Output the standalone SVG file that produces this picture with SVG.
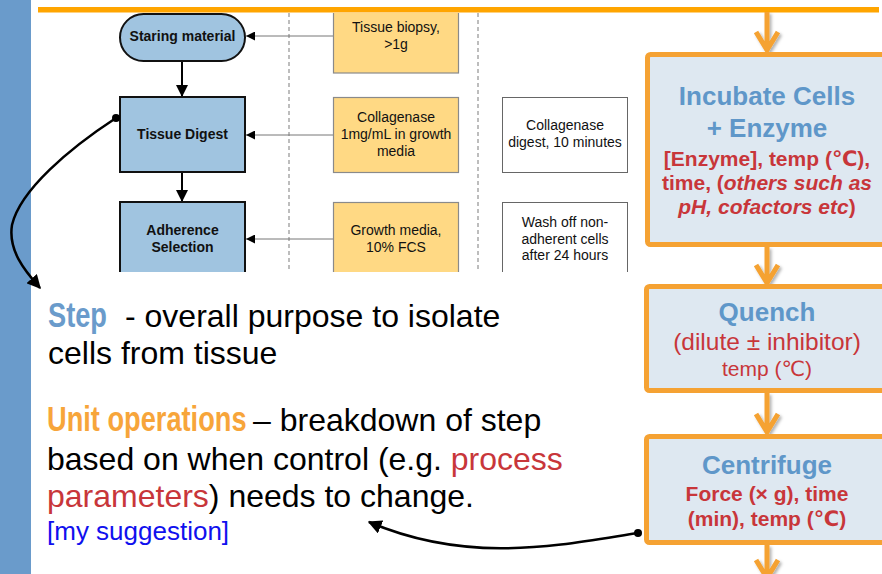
<svg xmlns="http://www.w3.org/2000/svg" width="882" height="574" viewBox="0 0 882 574">
<style>
  .node { fill: #A0C4E0; stroke: #111; stroke-width: 2; }
  .param { fill: #FFD984; stroke: #8a8a8a; stroke-width: 1.2; }
  .note { fill: #fff; stroke: #666; stroke-width: 1; }
  .ntxt { font-family: "Liberation Sans", Arial, sans-serif; font-size: 14px; font-weight: bold; fill: #111; text-anchor: middle; }
  .ptxt { font-family: "Liberation Sans", Arial, sans-serif; font-size: 14px; fill: #111; text-anchor: middle; }
  .dash { stroke: #9a9a9a; stroke-width: 1.3; stroke-dasharray: 4 3; fill: none; }
  .gline { stroke: #777; stroke-width: 1; fill: none; }
  .bline { stroke: #000; stroke-width: 2; fill: none; }
  .curve { stroke: #000; stroke-width: 2.5; fill: none; }
  .obox { fill: #DEE8F1; stroke: #F5A233; stroke-width: 5; }
  .oarrow { stroke: #F5A233; stroke-width: 5; fill: none; stroke-linecap: butt; stroke-linejoin: miter; }
  .btitle { font-family: "Liberation Sans", Arial, sans-serif; font-size: 26px; font-weight: bold; fill: #5F97C9; text-anchor: middle; }
  .rtxt { font-family: "Liberation Sans", Arial, "DejaVu Sans", sans-serif; font-size: 21px; fill: #C8363A; text-anchor: middle; }
  .rbig { font-size: 24.5px; }
  .big { font-family: "Liberation Sans", Arial, sans-serif; font-size: 32px; fill: #000; }
  .cond { font-family: "Liberation Sans", Arial, sans-serif; font-weight: bold; font-size: 36px; }
</style>
<defs>
  <marker id="gh" viewBox="0 0 10 10" refX="10" refY="5" markerWidth="9" markerHeight="9" markerUnits="userSpaceOnUse" orient="auto">
    <path d="M0,0 L10,5 L0,10 Z" fill="#000"/>
  </marker>
  <marker id="bh" viewBox="0 0 10 10" refX="10" refY="5" markerWidth="12" markerHeight="12" markerUnits="userSpaceOnUse" orient="auto">
    <path d="M0,0 L10,5 L0,10 Z" fill="#000"/>
  </marker>
  <marker id="ch" viewBox="0 0 10 10" refX="9" refY="5" markerWidth="14" markerHeight="14" markerUnits="userSpaceOnUse" orient="auto">
    <path d="M0,0 L10,5 L0,10 Z" fill="#000"/>
  </marker>
  <marker id="dot" viewBox="0 0 10 10" refX="5" refY="5" markerWidth="8" markerHeight="8" markerUnits="userSpaceOnUse">
    <circle cx="5" cy="5" r="5" fill="#000"/>
  </marker>
  <clipPath id="fc">
    <rect x="38" y="13" width="592" height="259"/>
  </clipPath>
  <filter id="sh" x="-30%" y="-30%" width="160%" height="160%">
    <feDropShadow dx="2" dy="2" stdDeviation="1.5" flood-color="#000" flood-opacity="0.3"/>
  </filter>
</defs>

<rect x="0" y="0" width="882" height="574" fill="#fff"/>
<rect id="sidebar" x="0" y="0" width="31" height="574" fill="#6A9BCB"/>
<rect id="topline" x="38" y="7" width="841" height="5.5" fill="#FFA500"/>

<!-- flowchart excerpt -->
<g clip-path="url(#fc)">
  <line class="dash" x1="289" y1="13" x2="289" y2="272"/>
  <line class="dash" x1="478" y1="13" x2="478" y2="272"/>

  <g id="connectors-flow">
    <line class="bline" x1="182" y1="61" x2="182" y2="97" marker-end="url(#bh)"/>
    <line class="bline" x1="182" y1="172" x2="182" y2="202" marker-end="url(#bh)"/>
    <line class="gline" x1="333" y1="36" x2="246" y2="36" marker-end="url(#gh)"/>
    <line class="gline" x1="333" y1="135" x2="246" y2="135" marker-end="url(#gh)"/>
    <line class="gline" x1="333" y1="239" x2="246" y2="239" marker-end="url(#gh)"/>
  </g>

  <g id="n-start">
    <rect class="node" x="120" y="14" width="125" height="47" rx="23.5" ry="23.5"/>
    <text class="ntxt" x="182.5" y="40.5">Staring material</text>
  </g>
  <g id="n-digest">
    <rect class="node" x="120" y="97" width="125" height="75"/>
    <text class="ntxt" x="182.5" y="139">Tissue Digest</text>
  </g>
  <g id="n-adherence">
    <rect class="node" x="120" y="202" width="125" height="90"/>
    <text class="ntxt" x="182.5" y="235">Adherence</text>
    <text class="ntxt" x="182.5" y="252">Selection</text>
  </g>

  <g id="p-biopsy">
    <rect class="param" x="333.5" y="5" width="125" height="68"/>
    <text class="ptxt" x="396" y="32">Tissue biopsy,</text>
    <text class="ptxt" x="396" y="49">&gt;1g</text>
  </g>
  <g id="p-collagenase">
    <rect class="param" x="333.5" y="97.5" width="125" height="75"/>
    <text class="ptxt" x="396" y="122">Collagenase</text>
    <text class="ptxt" x="396" y="139">1mg/mL in growth</text>
    <text class="ptxt" x="396" y="155.5">media</text>
  </g>
  <g id="p-growth">
    <rect class="param" x="333.5" y="202.5" width="125" height="90"/>
    <text class="ptxt" x="396" y="235">Growth media,</text>
    <text class="ptxt" x="396" y="252">10% FCS</text>
  </g>

  <g id="c-digest">
    <rect class="note" x="502.5" y="97.5" width="125" height="75"/>
    <text class="ptxt" x="565" y="130">Collagenase</text>
    <text class="ptxt" x="565" y="147">digest, 10 minutes</text>
  </g>
  <g id="c-wash">
    <rect class="note" x="502.5" y="202.5" width="125" height="90"/>
    <text class="ptxt" x="565" y="227">Wash off non-</text>
    <text class="ptxt" x="565" y="243.5">adherent cells</text>
    <text class="ptxt" x="565" y="260">after 24 hours</text>
  </g>
</g>

<!-- unit operations column -->
<g id="orange-arrows" filter="url(#sh)">
  <path class="oarrow" d="M767,12 V51 M756,32 L767,50 L778,32"/>
  <path class="oarrow" d="M767,247 V284 M756,265 L767,283 L778,265"/>
  <path class="oarrow" d="M767,393 V433 M756,414 L767,432 L778,414"/>
  <path class="oarrow" d="M767,545 V580 M756,560 L767,578 L778,560"/>
</g>

<g id="u-incubate">
  <rect class="obox" x="647.5" y="54.5" width="260" height="190" rx="3"/>
  <text class="btitle" x="767" y="105">Incubate Cells</text>
  <text class="btitle" x="767" y="137">+ Enzyme</text>
  <text class="rtxt" font-weight="bold" x="767" y="166">[Enzyme], temp (℃),</text>
  <text class="rtxt" font-weight="bold" x="767" y="190">time, (<tspan font-style="italic">others such as</tspan></text>
  <text class="rtxt" font-weight="bold" x="767" y="214"><tspan font-style="italic">pH, cofactors etc</tspan>)</text>
</g>

<g id="u-quench">
  <rect class="obox" x="646.5" y="286.5" width="260" height="104" rx="3"/>
  <text class="btitle" x="767" y="321">Quench</text>
  <text class="rtxt rbig" x="767" y="350">(dilute ± inhibitor)</text>
  <text class="rtxt" x="767" y="376">temp (℃)</text>
</g>

<g id="u-centrifuge">
  <rect class="obox" x="646.5" y="436.5" width="260" height="106" rx="3"/>
  <text class="btitle" x="767" y="474">Centrifuge</text>
  <text class="rtxt" font-weight="bold" x="767" y="501">Force (× g), time</text>
  <text class="rtxt" font-weight="bold" x="767" y="526">(min), temp (℃)</text>
</g>

<!-- explanatory text -->
<g id="t-step">
  <text class="cond" fill="#6A9BCB" transform="translate(48,327) scale(0.756,1)">Step</text>
  <text class="big" x="125" y="327">- overall purpose to isolate</text>
  <text class="big" x="48" y="364">cells from tissue</text>
</g>
<g id="t-unitops">
  <text class="cond" fill="#F7A53A" transform="translate(47,431) scale(0.756,1)">Unit operations</text>
  <text class="big" x="253" y="431">– breakdown of step</text>
  <text class="big" x="47" y="470">based on when control (e.g. <tspan fill="#C8363A">process</tspan></text>
  <text class="big" x="47" y="507"><tspan fill="#C8363A">parameters</tspan>) needs to change.</text>
  <text x="47" y="540" font-family="Liberation Sans, Arial, sans-serif" font-size="26" fill="#1010EE">[my suggestion]</text>
</g>

<g id="connectors-callout">
  <path class="curve" d="M116,118 C70,148 20,190 12,225 C8,250 24,270 40,288" marker-start="url(#dot)" marker-end="url(#ch)"/>
  <path class="curve" d="M638,533 C560,545 470,565 369,522" marker-start="url(#dot)" marker-end="url(#ch)"/>
</g>
</svg>
